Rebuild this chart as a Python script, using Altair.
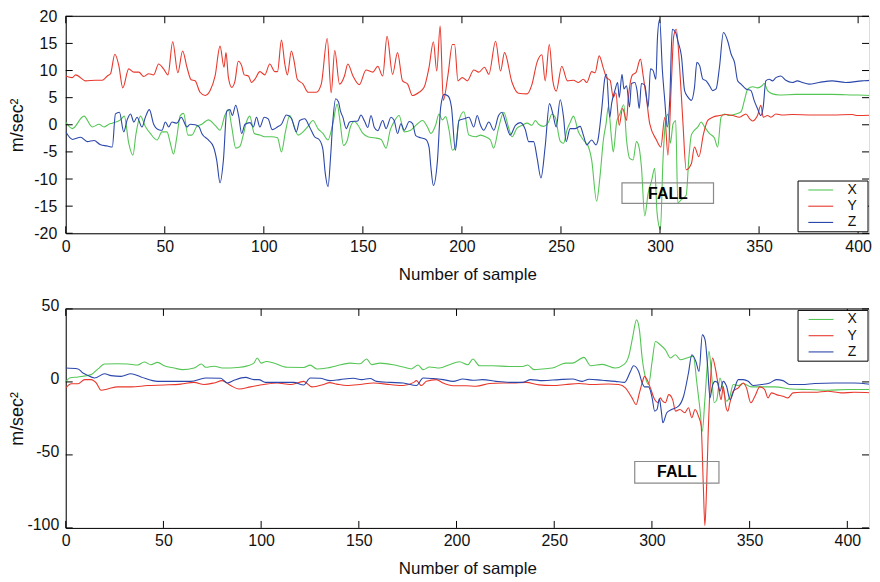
import altair as alt
import pandas as pd

# ---------------- data ----------------
X_TICKS = [0, 50, 100, 150, 200, 250, 300, 350, 400]
TOP_Y_TICKS = [-20, -15, -10, -5, 0, 5, 10, 15, 20]
BOTTOM_Y_TICKS = [-100, -50, 0, 50]
SERIES = ["X", "Y", "Z"]

# top panel: (sample, m/sec^2)
TOP_X = [(0,0.5),(3.3,-0.7),(9.2,1.6),(13.4,-0.4),(16.8,0.1),(19.3,-0.4),(21.8,0.1),(23.5,0.3),(27.6,0.9),(29.6,1.6),
(31.8,-3.4),(33.9,-5.6),(35.5,-1.6),(37.7,1.6),(40.2,-0.3),(42.7,-1.6),(46.1,-2.8),(48.6,-1.3),(51.1,-1.3),(52.8,-3.4),
(54.4,-5.4),(56.1,-2.2),(57.8,1.7),(59.5,2.1),(61.7,-1.9),(63.7,-1.9),(66.2,-0.3),(68.7,0.1),(72.0,0.9),(75.4,-0.1),
(77.9,-1.0),(80.4,1.8),(82.1,2.8),(83.8,-0.4),(85.8,-4.3),(87.9,-4.0),(89.6,-1.9),(91.2,0.5),(92.9,1.6),(95.2,-1.6),
(98.0,-1.9),(100.5,-2.2),(103.9,-2.2),(106.9,-2.4),(108.9,-5.0),(110.9,-1.3),(113.1,1.7),(114.8,0.3),(117.3,-1.9),(119.8,-1.3),
(122.3,-0.3),(124.8,0.8),(127.3,-0.7),(129.8,-1.6),(132.4,-2.8),(134.9,0.3),(137.0,3.8),(138.5,0.5),(140.2,-3.8),(142.0,-3.0),
(143.7,-0.4),(145.7,0.6),(147.4,0.0),(150.0,-1.6),(152.5,-2.2),(155.8,-2.4),(159.2,-2.7),(161.7,-4.3),(163.8,-1.0),(165.8,0.6),
(168.3,1.7),(170.8,-1.3),(174.1,-1.0),(177.6,0.2),(180.1,0.8),(182.6,-0.4),(184.3,-1.6),(186.8,0.0),(188.4,2.0),(190.1,0.9),
(191.8,1.5),(193.5,-1.0),(195.2,-4.7),(196.8,-4.0),(198.5,0.8),(201.0,2.4),(203.5,-1.9),(206.9,-2.2),(209.4,-1.9),(211.9,-2.2),
(214.4,-2.8),(216.0,-4.3),(218.5,-0.6),(221.1,2.3),(223.6,-0.6),(225.3,-2.2),(227.8,-0.6),(230.4,-0.1),(232.9,0.3),(235.4,-0.1),
(237.0,0.8),(238.7,0.1),(241.2,-0.3),(243.7,0.5),(245.4,2.0),(247.1,1.4),(249.6,-3.0),(251.3,-3.4),(253.0,-1.0),(254.6,0.4),
(256.3,1.6),(258.8,-1.3),(261.3,-2.8),(263.8,-4.0),(265.5,-6.5),(268.0,-14.1),(269.7,-9.5),(271.4,-2.8),(272.8,0.3),(273.9,3.3),
(275.6,-2.8),(276.4,-5.0),(278.1,0.5),(279.7,2.0),(281.7,3.7),(283.1,-2.8),(284.7,-6.2),(286.4,-6.5),(288.1,-3.1),(289.4,-4.1),
(290.6,-7.7),(292.3,-16.8),(294.0,-12.6),(295.7,-10.4),(297.3,-8.0),(298.5,-16.2),(300.2,-19.3),(301.5,-6.5),(302.9,0.8),(304.0,2.0),
(305.2,-3.4),(306.6,0.2),(307.9,0.8),(309.0,-14.4),(310.7,-13.8),(313.2,-13.0),(314.6,-5.9),(315.8,-1.9),(317.4,-1.0),(319.1,-0.4),
(320.8,0.5),(322.5,-0.4),(324.9,-1.6),(327.4,-2.4),(329.1,-4.1),(330.8,1.4),(332.5,2.0),(335.0,1.7),(338.4,2.0),(340.9,2.4),
(342.6,4.5),(344.3,6.6),(346.8,7.0),(349.2,6.8),(351.5,7.2),(352.6,7.6),(354.3,6.3),(356.8,5.7),(360.2,5.5),(368.5,5.6),
(376.9,5.6),(386.9,5.6),(397.0,5.5),(406.0,5.4),(410.0,5.3)]

TOP_Y = [(0,9.0),(3.3,8.7),(5.0,9.2),(10.1,8.1),(15.1,8.2),(18.4,8.2),(21.0,9.0),(22.6,9.4),(24.8,13.0),(26.8,10.9),
(28.8,6.8),(31.8,10.3),(34.4,9.7),(36.9,9.7),(39.4,8.9),(41.9,9.4),(44.4,9.2),(46.9,11.2),(49.4,10.3),(51.6,9.2),
(54.0,15.3),(56.6,9.6),(59.0,13.6),(61.2,10.6),(63.3,8.3),(65.3,8.1),(67.8,6.0),(70.4,5.4),(72.9,6.3),(75.4,9.0),
(77.9,14.5),(79.9,10.6),(80.9,13.3),(82.1,8.8),(83.8,6.9),(85.4,8.0),(87.1,11.7),(88.8,10.9),(90.1,9.2),(92.2,9.0),
(93.8,7.8),(95.5,8.4),(98.0,9.8),(100.5,9.2),(103.0,11.2),(105.5,9.8),(106.9,9.8),(108.9,15.6),(110.6,11.2),(111.9,9.2),
(113.9,13.6),(115.3,11.7),(116.9,8.4),(119.8,7.5),(122.3,6.0),(126.5,6.0),(129.0,7.5),(132.0,15.9),(134.0,5.9),(135.8,13.7),
(138.2,7.5),(140.7,9.0),(142.4,11.2),(145.0,9.0),(148.2,7.4),(151.6,10.1),(155.0,9.7),(157.5,10.8),(160.0,9.0),(162.2,16.3),
(165.0,9.3),(167.5,13.3),(170.0,8.1),(172.6,7.5),(175.0,5.4),(178.4,6.0),(180.9,6.9),(183.4,10.6),(185.6,15.3),(187.3,9.9),
(189.0,18.2),(190.6,4.5),(193.0,9.3),(195.2,14.8),(196.3,14.8),(198.0,8.1),(200.2,8.7),(202.7,8.1),(206.0,10.1),(208.5,9.7),
(211.4,10.6),(213.6,9.3),(217.0,15.4),(219.5,9.9),(221.5,13.3),(225.3,7.8),(228.6,5.8),(232.9,5.7),(235.4,7.5),(237.9,11.5),
(240.4,12.9),(242.0,8.1),(244.1,14.8),(245.9,8.1),(247.6,6.2),(250.4,10.8),(253.3,8.1),(256.3,8.2),(258.8,7.8),(261.3,8.4),
(263.0,7.8),(265.5,9.8),(267.2,9.6),(269.3,12.7),(271.4,10.4),(273.0,8.7),(274.8,8.2),(276.4,5.1),(277.7,5.9),(279.4,-0.1),
(281.1,3.0),(283.1,0.8),(283.9,4.5),(286.1,9.2),(287.8,9.6),(290.1,12.1),(291.5,9.0),(293.1,5.0),(294.8,0.2),(298.2,-2.8),
(300.4,-4.1),(302.4,1.4),(304.0,-5.6),(305.7,7.5),(306.9,16.3),(308.2,17.6),(309.9,10.6),(311.5,0.8),(313.2,-8.3),(315.8,-7.2),
(317.4,-4.1),(319.6,-5.9),(322.0,-1.6),(324.1,0.8),(326.6,1.4),(330.0,1.7),(333.4,1.9),(336.7,1.7),(340.1,1.4),(343.4,2.0),
(345.1,1.2),(346.7,0.7),(349.2,1.7),(350.9,3.6),(352.1,1.4),(354.3,1.7),(356.0,1.4),(358.5,2.0),(361.8,1.8),(366.8,1.9),
(376.9,1.8),(386.9,1.8),(397.0,1.9),(399.5,1.7),(410.0,1.8)]

TOP_Z = [(0,-1.3),(3.4,-2.7),(7.5,-2.3),(10.9,-3.1),(14.3,-2.9),(17.6,-3.7),(21.0,-3.9),(23.5,-4.1),(25.1,2.0),(27.1,2.3),
(29.3,-1.3),(31.0,0.9),(32.7,2.0),(34.4,0.5),(36.0,1.4),(38.5,-0.4),(40.2,1.4),(42.2,2.8),(44.4,0.1),(46.9,-0.9),
(48.6,-1.0),(50.3,0.5),(52.0,-0.4),(53.6,0.5),(56.1,0.3),(58.3,1.4),(61.2,-0.4),(62.8,0.1),(65.3,0.0),(67.3,-0.4),
(68.7,-1.6),(72.0,-2.8),(74.6,-4.1),(76.2,-6.5),(77.9,-10.7),(79.6,-6.5),(81.3,2.5),(82.9,2.8),(84.1,1.7),(85.8,3.6),
(87.4,1.4),(88.8,-1.6),(90.5,0.1),(93.0,0.4),(94.7,-0.4),(96.3,1.4),(98.0,-0.4),(100.2,1.4),(102.2,1.1),(104.2,-0.9),
(106.9,-0.4),(108.9,0.1),(111.4,1.8),(113.9,1.2),(116.4,-1.3),(118.1,0.8),(120.6,1.1),(123.1,-0.4),(125.6,-2.2),(128.1,-2.8),
(129.8,-4.5),(131.0,-8.9),(132.4,-11.4),(133.7,-5.9),(134.8,0.5),(136.3,4.8),(137.7,4.2),(138.7,2.5),(139.9,1.4),(141.6,-0.7),
(143.3,0.5),(144.3,0.6),(147.4,0.7),(149.0,1.8),(150.8,0.7),(152.5,-0.5),(154.1,1.7),(155.8,-0.5),(157.5,-1.1),(160.0,0.8),
(161.7,-0.7),(164.2,1.4),(165.8,0.8),(167.5,-1.6),(169.2,0.2),(170.9,-1.0),(173.4,0.6),(175.1,0.2),(176.7,-2.0),(179.2,-2.4),
(181.8,-2.7),(183.4,-4.1),(184.3,-7.7),(185.6,-11.2),(187.6,-6.8),(189.3,3.3),(191.0,5.6),(193.0,5.3),(194.7,3.3),(196.7,-4.7),
(198.5,0.8),(201.0,1.1),(203.5,1.4),(206.0,-0.4),(207.7,1.7),(209.4,-0.1),(211.0,-1.0),(213.6,0.5),(216.1,-1.0),(218.5,1.7),
(220.2,2.3),(222.0,0.5),(224.4,-1.9),(227.0,-0.1),(229.5,0.4),(232.0,-0.9),(233.7,-3.1),(236.2,-3.1),(237.9,-6.0),(239.9,-9.8),
(242.0,-4.1),(244.2,3.9),(245.9,2.0),(247.6,-0.4),(249.6,4.6),(251.3,1.4),(252.6,-3.1),(254.6,-0.7),(257.1,-0.7),(259.7,-0.3),
(261.3,-1.9),(263.0,-3.7),(265.5,-2.8),(267.7,-3.7),(268.5,-3.1),(270.5,2.6),(272.2,8.7),(273.0,9.3),(274.6,1.4),(275.6,4.0),
(277.2,6.3),(278.6,7.8),(279.4,5.0),(280.8,9.3),(281.8,6.6),(283.1,7.2),(284.6,3.3),(285.6,7.6),(287.3,7.8),(288.4,6.3),
(289.5,3.0),(290.6,7.6),(292.3,7.3),(294.0,3.3),(295.2,10.3),(296.5,10.0),(297.9,8.4),(298.7,16.0),(299.8,19.4),(301.2,10.0),
(302.4,4.5),(303.6,-0.4),(304.9,4.5),(306.2,17.6),(307.9,17.0),(309.1,15.3),(310.8,12.7),(312.4,6.3),(314.1,5.1),(315.8,4.5),
(317.4,6.9),(318.6,11.5),(320.0,10.9),(321.6,8.4),(323.3,8.1),(325.0,7.2),(326.6,6.3),(328.3,6.6),(330.0,10.6),(332.0,17.0),
(334.2,15.4),(335.9,13.0),(337.6,11.5),(339.2,8.1),(340.9,7.5),(343.4,6.6),(345.9,6.3),(347.5,4.5),(349.2,3.0),(350.9,1.7),
(352.1,3.3),(353.4,8.1),(355.1,8.4),(356.8,8.1),(358.5,8.7),(361.0,9.0),(363.5,8.2),(366.8,7.8),(369.3,8.1),(371.9,7.8),
(375.2,7.5),(380.3,7.8),(386.9,8.1),(393.6,7.8),(402.0,8.1),(407.0,8.2),(410.0,7.8)]

# bottom panel: (sample, m/sec^2)
BOTTOM_X = [(0,0.0),(2.0,2.7),(6.3,3.4),(13.0,5.0),(16.5,8.9),(19.9,12.3),(26.6,12.5),(31.7,12.3),(36.8,11.6),(40.2,13.6),
(43.6,11.8),(47.0,13.4),(50.4,11.1),(55.5,9.5),(59.8,8.4),(65.7,9.5),(69.4,12.3),(71.6,10.0),(75.9,10.7),(81.0,9.5),
(87.8,9.9),(92.9,11.0),(96.3,12.9),(98.0,16.4),(100.0,12.9),(102.7,14.0),(106.5,12.9),(113.3,10.0),(121.8,9.9),(125.1,11.5),
(128.5,8.9),(133.6,9.5),(138.7,11.1),(145.5,12.9),(150.6,12.4),(154.0,15.7),(156.5,11.8),(160.8,12.9),(167.6,11.8),(172.7,10.2),
(176.9,8.9),(180.3,11.6),(182.9,8.4),(186.2,10.2),(191.3,9.5),(196.4,11.8),(201.5,13.8),(205.8,11.8),(208.4,15.7),(211.7,11.1),
(218.5,11.1),(227.0,10.6),(233.8,10.6),(236.4,11.6),(239.7,8.4),(244.0,8.9),(249.1,9.5),(255.9,12.9),(259.3,12.9),(265.2,16.8),
(268.6,11.1),(274.6,12.0),(281.3,9.5),(285.6,11.8),(288.1,17.5),(290.2,31.1),(292.1,42.5),(293.6,35.7),(295.0,16.4),(297.0,1.6),
(298.3,-1.8),(300.1,14.0),(301.8,27.7),(304.3,25.4),(306.9,22.0),(309.5,16.4),(312.0,18.6),(314.6,15.2),(317.9,16.4),(321.2,17.5),
(323.0,-0.7),(324.6,-18.9),(325.8,-33.7),(327.1,-12.1),(329.2,20.9),(330.6,3.8),(331.9,-14.3),(333.2,-12.1),(334.8,2.7),(336.5,-5.2),
(338.2,-13.2),(339.9,-9.8),(341.6,-1.8),(344.2,-2.5),(346.7,-1.1),(350.9,-3.4),(356.1,-3.4),(362.9,-3.4),(371.3,-4.8),(379.8,-5.2),
(390.0,-5.7),(400.2,-5.2),(413.0,-5.2)]

BOTTOM_Y = [(0,-4.1),(2.9,-1.2),(6.3,-1.2),(9.7,1.6),(13.0,1.6),(15.6,-0.7),(18.1,-5.7),(21.5,-4.8),(26.6,-3.4),(33.4,-3.4),
(41.9,-2.5),(50.4,-2.1),(58.9,-1.5),(65.7,-0.3),(70.8,-1.8),(75.9,-0.7),(80.1,0.9),(84.4,-2.5),(88.6,-4.8),(94.6,-3.4),
(101.4,-1.8),(108.2,-0.7),(114.9,-1.8),(121.8,0.4),(126.0,-3.4),(131.9,-1.8),(135.0,-0.5),(138.7,-1.5),(143.8,-2.5),(150.6,-1.8),
(157.4,-0.7),(165.9,-1.8),(172.7,-2.5),(178.1,-0.3),(179.5,0.9),(182.0,-2.5),(184.6,0.4),(189.7,1.6),(193.1,-0.7),(198.2,-2.6),
(204.9,-2.6),(210.0,-3.0),(216.8,-1.1),(223.6,-0.7),(228.7,-0.7),(235.5,-0.3),(242.3,-2.0),(249.1,-2.5),(255.9,-1.8),(262.7,-1.1),
(269.5,-1.8),(277.9,-1.4),(283.0,-1.8),(286.4,-4.1),(289.8,-10.9),(291.9,-15.5),(293.6,-7.5),(295.0,-0.7),(296.2,3.8),(297.5,1.6),
(299.2,-4.1),(301.4,-12.1),(303.1,-14.3),(304.3,-10.9),(305.5,-13.2),(306.9,-14.3),(308.6,-8.7),(310.6,-12.1),(312.1,-20.0),(314.3,-18.9),
(316.8,-21.1),(318.7,-17.7),(320.4,-24.5),(322.1,-18.9),(323.8,-23.4),(325.2,-30.2),(326.3,-71.0),(327.1,-98.4),(328.0,-71.0),(328.8,-34.8),
(330.0,1.6),(331.0,16.4),(332.6,8.4),(334.0,-3.0),(335.4,-12.1),(336.5,-3.0),(337.8,-16.6),(338.8,-20.0),(339.9,-14.3),(341.6,-6.4),
(344.2,-4.1),(346.7,-0.7),(348.4,-4.1),(350.6,-14.3),(352.7,-9.8),(355.2,-3.4),(357.7,-5.2),(359.4,-10.9),(361.2,-7.5),(363.7,-8.7),
(367.1,-9.8),(369.6,-10.9),(372.2,-7.5),(376.5,-7.1),(383.3,-7.1),(390.0,-6.4),(396.8,-7.5),(403.6,-7.1),(413.0,-7.5)]

BOTTOM_Z = [(0,9.5),(6.3,8.9),(8.8,6.1),(10.5,5.0),(14.8,2.7),(19.9,5.6),(23.2,4.3),(28.3,3.8),(33.4,5.6),(38.5,3.4),
(47.0,0.4),(53.8,0.4),(64.0,0.4),(71.6,2.7),(79.3,2.5),(82.7,-0.7),(86.1,1.1),(92.0,3.1),(96.3,1.6),(98.8,1.6),
(102.2,-0.3),(109.8,-0.3),(116.7,-0.3),(121.8,-2.1),(125.1,2.7),(130.2,2.5),(135.3,0.9),(140.4,1.6),(147.2,2.5),(151.5,1.6),
(155.7,2.3),(159.1,0.4),(165.9,-0.3),(172.7,-0.7),(179.5,-2.5),(182.9,2.7),(188.0,2.3),(193.1,1.6),(198.2,0.4),(203.3,2.0),
(208.4,1.1),(213.4,1.6),(220.2,0.4),(227.0,-0.3),(233.8,-0.3),(238.0,1.6),(244.0,0.9),(252.5,1.6),(259.3,2.0),(264.4,0.4),
(267.8,1.8),(274.6,1.1),(281.3,0.4),(286.0,-0.3),(289.0,7.2),(290.6,11.1),(293.2,7.2),(295.0,-0.7),(296.3,-3.4),(298.3,-3.4),
(300.1,-10.9),(301.4,-20.0),(302.6,-18.9),(303.8,-11.6),(304.8,-20.0),(305.6,-28.0),(307.6,-21.1),(310.1,-18.9),(313.6,-16.6),(316.2,-9.8),
(318.7,6.1),(320.4,18.6),(322.5,14.0),(324.1,7.2),(325.8,32.2),(327.2,28.8),(328.5,10.6),(329.7,-10.9),(330.9,-3.0),(332.3,0.4),
(333.7,-0.7),(334.8,-6.4),(336.5,0.4),(338.2,-3.0),(340.0,-12.1),(342.1,-5.2),(344.2,1.6),(346.7,1.6),(349.3,0.4),(351.8,-2.5),
(356.1,-1.8),(360.3,-0.7),(363.7,1.6),(367.1,0.9),(370.5,-1.8),(376.5,-1.8),(383.3,-1.1),(393.5,-0.7),(403.6,-0.7),(413.0,-1.8)]

# "FALL" annotation boxes in data units: x0, x1, y0, y1, text centre
TOP_FALL = (280.8, 327.0, -10.7, -14.5, 304.0, -12.7)
BOTTOM_FALL = (291.2, 334.3, -54.5, -69.3, 312.8, -62.0)

# ---------------- styling ----------------
COLORS = ["#55c655", "#e8382c", "#2b47aa"]
FONT = "Liberation Sans"
INK = "#111111"
TICK = 7
PANEL_W = 807          # the page leaves 864 px for the whole figure


def long_df(x, y, z):
    rows = []
    for name, pts in zip(SERIES, (x, y, z)):
        for t, v in pts:
            rows.append({"sample": t, "value": v, "axis": name})
    return pd.DataFrame(rows)


ONE = pd.DataFrame({"k": [0]})


def panel(df, width, height, xmax, ydom, yticks, ylab_pad, ylab_off, fall, leg):
    xs = alt.Scale(domain=[0, xmax], nice=False, zero=False)
    ys = alt.Scale(domain=ydom, nice=False, zero=False)
    x_axis = alt.Axis(values=X_TICKS, title="Number of sample", labelExpr="'' + datum.value",
                      ticks=False, domain=True, domainColor="black", domainWidth=1, grid=False,
                      labelFont=FONT, labelFontSize=16, labelColor=INK, labelPadding=5,
                      labelFlush=False, labelOverlap=False,
                      titleFont=FONT, titleFontSize=17, titleFontWeight="normal",
                      titleColor=INK, titlePadding=12)
    y_axis = alt.Axis(values=yticks, title="m/sec²", labelExpr="'' + datum.value",
                      ticks=False, domain=True, domainColor="black", domainWidth=1, grid=False,
                      labelFont=FONT, labelFontSize=16, labelColor=INK, labelPadding=ylab_pad,
                      labelOffset=ylab_off, labelFlush=False, labelOverlap=False,
                      minExtent=38, maxExtent=38,
                      titleFont=FONT, titleFontSize=18, titleFontWeight="normal",
                      titleColor=INK, titlePadding=1)

    def X(field):
        return alt.X(field, scale=xs, axis=x_axis, title="Number of sample")

    def Y(field):
        return alt.Y(field, scale=ys, axis=y_axis, title="m/sec²")

    lines = alt.Chart(df).mark_line(strokeWidth=1.1, interpolate="monotone", clip=True).encode(
        x=X("sample:Q"),
        y=Y("value:Q"),
        color=alt.Color("axis:N", scale=alt.Scale(domain=SERIES, range=COLORS), legend=None),
        detail="axis:N",
    )

    x0, x1, y0, y1, tx, ty = fall
    fall_df = pd.DataFrame([{"x0": x0, "x1": x1, "y0": y0, "y1": y1,
                             "tx": tx, "ty": ty, "label": "FALL"}])
    fall_box = alt.Chart(fall_df).mark_rect(fill="white", fillOpacity=0, stroke="#8a8a8a",
                                            strokeWidth=1.2).encode(
        x=X("x0:Q"), x2="x1:Q", y=Y("y0:Q"), y2="y1:Q")
    fall_txt = alt.Chart(fall_df).mark_text(font=FONT, fontSize=16, fontWeight="bold",
                                            color="black").encode(
        x=X("tx:Q"), y=Y("ty:Q"), text="label:N")

    xt = pd.DataFrame({"t": X_TICKS})
    yt = pd.DataFrame({"t": yticks})
    rule = dict(color="black", strokeWidth=1)
    tick_b = alt.Chart(xt).mark_rule(**rule).encode(
        x=X("t:Q"), y=alt.value(height), y2=alt.value(height - TICK))
    tick_t = alt.Chart(xt).mark_rule(**rule).encode(
        x=X("t:Q"), y=alt.value(0), y2=alt.value(TICK))
    tick_l = alt.Chart(yt).mark_rule(**rule).encode(
        y=Y("t:Q"), x=alt.value(0), x2=alt.value(TICK))
    tick_r = alt.Chart(yt).mark_rule(**rule).encode(
        y=Y("t:Q"), x=alt.value(width - TICK), x2=alt.value(width))
    top_line = alt.Chart(ONE).mark_rule(**rule).encode(
        x=alt.value(0), x2=alt.value(width), y=alt.value(0))

    bx0, bx1, by0, by1, lx0, lx1, rows_y, lab_x = leg
    leg_box = alt.Chart(ONE).mark_rect(fill="white", stroke="black", strokeWidth=1).encode(
        x=alt.value(bx0), x2=alt.value(bx1), y=alt.value(by0), y2=alt.value(by1))
    leg_layers = [leg_box]
    for name, col, ry in zip(SERIES, COLORS, rows_y):
        leg_layers.append(alt.Chart(ONE).mark_rule(color=col, strokeWidth=1.1).encode(
            x=alt.value(lx0), x2=alt.value(lx1), y=alt.value(ry)))
        leg_layers.append(alt.Chart(ONE).mark_text(font=FONT, fontSize=14, color=INK,
                                                   align="center", baseline="middle",
                                                   text=name).encode(
            x=alt.value(lab_x), y=alt.value(ry)))

    return alt.layer(lines, fall_box, tick_b, tick_t, tick_l, tick_r, top_line,
                     fall_txt, *leg_layers).properties(width=width, height=height)


top = panel(long_df(TOP_X, TOP_Y, TOP_Z), PANEL_W, 218, 405.5, [-20, 20], TOP_Y_TICKS,
            9, 0, TOP_FALL,
            (735.7, 806.0, 165.5, 216.5, 746.0, 771.0, (174.5, 190.8, 207.1), 790.0))
bottom = panel(long_df(BOTTOM_X, BOTTOM_Y, BOTTOM_Z), PANEL_W, 220, 411.1, [-100, 50],
               BOTTOM_Y_TICKS, 7, -3, BOTTOM_FALL,
               (735.7, 806.0, 1.5, 52.5, 746.3, 771.3, (10.6, 26.9, 43.2), 790.0))

chart = alt.concat(top, bottom, columns=1, spacing=14).properties(
    padding={"left": 0, "top": -2, "right": 0, "bottom": 0}
).configure_view(stroke=None).configure(background="white")

chart.save("out.html", embed_options={"renderer": "svg", "actions": False})
